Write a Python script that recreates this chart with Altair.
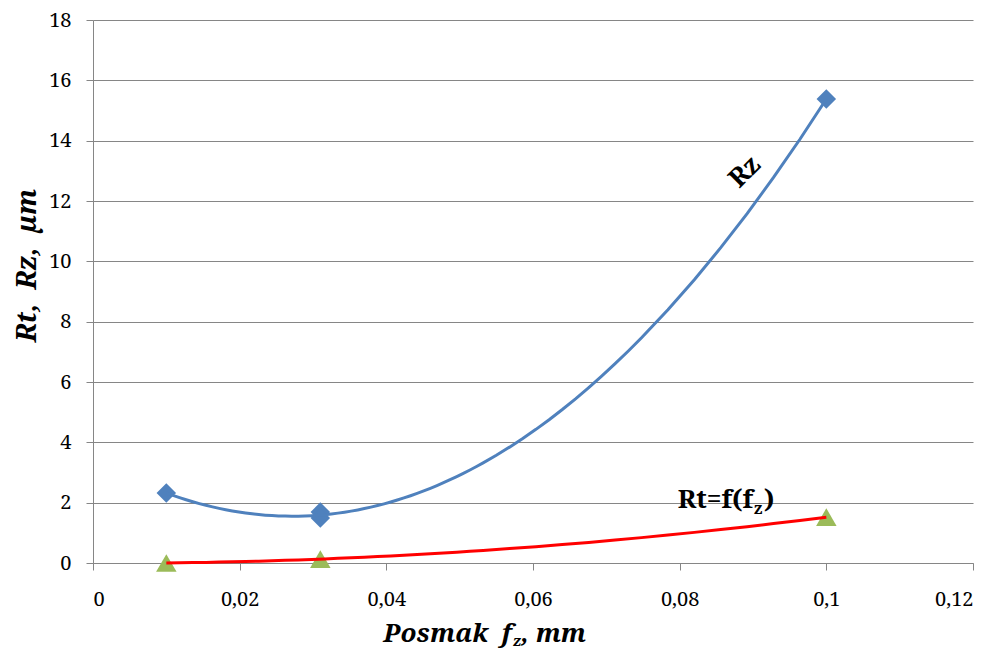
import altair as alt
import pandas as pd

# Data
fz_rz = [0.01, 0.031, 0.031, 0.1]
rz = [2.32, 1.69, 1.49, 15.38]
fz_rt = [0.01, 0.031, 0.1]
rt = [0.0, 0.13, 1.52]
x_ticks = [0, 0.02, 0.04, 0.06, 0.08, 0.1, 0.12]
y_ticks = [0, 2, 4, 6, 8, 10, 12, 14, 16, 18]

df_rz = pd.DataFrame({"fz": fz_rz, "v": rz})
df_rt = pd.DataFrame({"fz": fz_rt, "v": rt})
one = pd.DataFrame({"a": [0]})

FONT = "Noto Serif"
GRAY = "#868686"
BLUE = "#4F81BD"
GREEN = "#9BBB59"
NB = "\u00a0"
W, H = 880, 543

x_enc = alt.X(
    "fz:Q",
    scale=alt.Scale(domain=[0, 0.12], nice=False, zero=False),
    axis=alt.Axis(
        values=x_ticks,
        labelExpr="replace(format(datum.value, '.2~f'), '.', ',')",
        title=None,
        grid=False,
        domainColor=GRAY,
        tickColor=GRAY,
        tickSize=7,
        labelPadding=19,
    ),
)
y_enc = alt.Y(
    "v:Q",
    scale=alt.Scale(domain=[0, 18], nice=False),
    axis=alt.Axis(
        values=y_ticks,
        title=f"Rt,{NB} Rz,{NB} µm",
        grid=True,
        gridColor=GRAY,
        domainColor=GRAY,
        tickColor=GRAY,
        tickSize=7,
        labelPadding=15,
        titleFontSize=27,
        titleFontStyle="italic",
        titleFontWeight="bold",
        titleX=-66,
        titleY=245,
        titleAngle=270,
        titleAlign="center",
        titleBaseline="middle",
    ),
)

rz_pts = alt.Chart(df_rz).mark_point(
    shape="diamond", filled=True, size=380, color=BLUE, opacity=1
).encode(x=x_enc, y=y_enc)

rt_pts = alt.Chart(df_rt).mark_point(
    shape="triangle-up", filled=True, size=420, color=GREEN, opacity=1
).encode(x=x_enc, y=y_enc)

rz_fit = alt.Chart(df_rz).transform_regression(
    "fz", "v", method="poly", order=2
).mark_line(color=BLUE, strokeWidth=3).encode(x=x_enc, y=y_enc)

rt_fit = alt.Chart(df_rt).transform_regression(
    "fz", "v", method="poly", order=2
).mark_line(color="#FF0000", strokeWidth=3).encode(x=x_enc, y=y_enc)


def txt(text, x, y, size, **kw):
    return alt.Chart(one).mark_text(
        text=text, font=FONT, fontSize=size, color="black", **kw
    ).encode(x=alt.value(x), y=alt.value(y))


labels = [
    txt("Rz", 652, 152, 26, fontWeight="bold", angle=315, align="center", baseline="middle"),
    txt("Rt=f(f", 660, 488, 26, fontWeight="bold", align="right", baseline="alphabetic"),
    txt("z", 661, 494, 16, fontWeight="bold", align="left", baseline="alphabetic"),
    txt(")", 671, 488, 26, fontWeight="bold", align="left", baseline="alphabetic"),
    txt(f"Posmak{NB} f", 419, 622, 26, fontWeight="bold", fontStyle="italic", align="right", baseline="alphabetic"),
    txt("z", 420, 626, 15, fontWeight="bold", fontStyle="italic", align="left", baseline="alphabetic"),
    txt(", mm", 428, 622, 26, fontWeight="bold", fontStyle="italic", align="left", baseline="alphabetic"),
]

chart = alt.layer(rz_pts, rt_pts, rz_fit, rt_fit, *labels).properties(
    width=W,
    height=H,
    autosize=alt.AutoSizeParams(type="none"),
    padding={"left": 85, "top": 12, "right": 16, "bottom": 90},
).configure_view(stroke=None).configure_axis(
    labelFont=FONT,
    titleFont=FONT,
    labelFontSize=20,
    labelColor="black",
    titleColor="black",
)

chart.save("out.html", embed_options={"renderer": "svg", "actions": False})
